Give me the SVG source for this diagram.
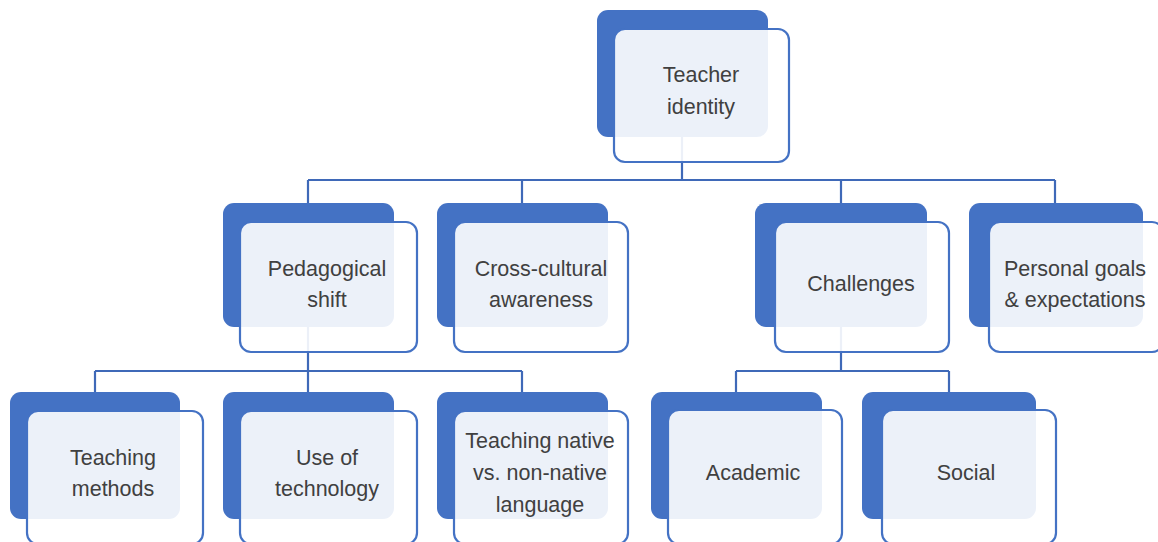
<svg xmlns="http://www.w3.org/2000/svg" width="1158" height="542" viewBox="0 0 1158 542">
<style>
.back{fill:#4472C4}
.front{fill:#ffffff;fill-opacity:0.9;stroke:#4472C4;stroke-width:2.2}
.conn{fill:none;stroke:#3F69B8;stroke-width:2.2}
text{font-family:"Liberation Sans",Arial,sans-serif;font-size:21.5px;fill:#404040;text-anchor:middle}
</style>
<rect width="1158" height="542" fill="#ffffff"/>
<g id="connectors">
<path class="conn" d="M682,137V180M308,180H1055M308,180V203M522,180V203M841,180V203M1055,180V203"/>
<path class="conn" d="M308,327V371M95,371H522M95,371V392M308,371V392M522,371V392"/>
<path class="conn" d="M841,327V371M736,371H949M736,371V392M949,371V392"/>
</g>
<g id="n-teacher-identity">
<rect class="back" x="597" y="10" width="171" height="127" rx="11"/>
<rect class="front" x="614" y="29" width="175" height="133" rx="11"/>
<text x="701" y="82">Teacher</text><text x="701" y="114">identity</text>
</g>
<g id="n-pedagogical-shift">
<rect class="back" x="223" y="203" width="171" height="124" rx="11"/>
<rect class="front" x="240" y="222" width="177" height="130" rx="11"/>
<text x="327" y="276">Pedagogical</text><text x="327" y="307">shift</text>
</g>
<g id="n-cross-cultural">
<rect class="back" x="437" y="203" width="171" height="124" rx="11"/>
<rect class="front" x="454" y="222" width="174" height="130" rx="11"/>
<text x="541" y="276">Cross-cultural</text><text x="541" y="307">awareness</text>
</g>
<g id="n-challenges">
<rect class="back" x="755" y="203" width="172" height="124" rx="11"/>
<rect class="front" x="775" y="222" width="174" height="130" rx="11"/>
<text x="861" y="291">Challenges</text>
</g>
<g id="n-personal-goals">
<rect class="back" x="969" y="203" width="174" height="124" rx="11"/>
<rect class="front" x="989" y="222" width="174" height="130" rx="11"/>
<text x="1075" y="276">Personal goals</text><text x="1075" y="307">&amp; expectations</text>
</g>
<g id="n-teaching-methods">
<rect class="back" x="10" y="392" width="170" height="127" rx="11"/>
<rect class="front" x="27" y="411" width="176" height="133" rx="11"/>
<text x="113" y="465">Teaching</text><text x="113" y="496">methods</text>
</g>
<g id="n-use-of-technology">
<rect class="back" x="223" y="392" width="171" height="127" rx="11"/>
<rect class="front" x="240" y="411" width="177" height="133" rx="11"/>
<text x="327" y="465">Use of</text><text x="327" y="496">technology</text>
</g>
<g id="n-teaching-native">
<rect class="back" x="437" y="392" width="171" height="127" rx="11"/>
<rect class="front" x="454" y="411" width="174" height="133" rx="11"/>
<text x="540" y="448">Teaching native</text><text x="540" y="480">vs. non-native</text><text x="540" y="512">language</text>
</g>
<g id="n-academic">
<rect class="back" x="651" y="392" width="171" height="127" rx="11"/>
<rect class="front" x="668" y="410" width="174" height="134" rx="11"/>
<text x="753" y="480">Academic</text>
</g>
<g id="n-social">
<rect class="back" x="862" y="392" width="174" height="127" rx="11"/>
<rect class="front" x="882" y="410" width="174" height="134" rx="11"/>
<text x="966" y="480">Social</text>
</g>
</svg>
